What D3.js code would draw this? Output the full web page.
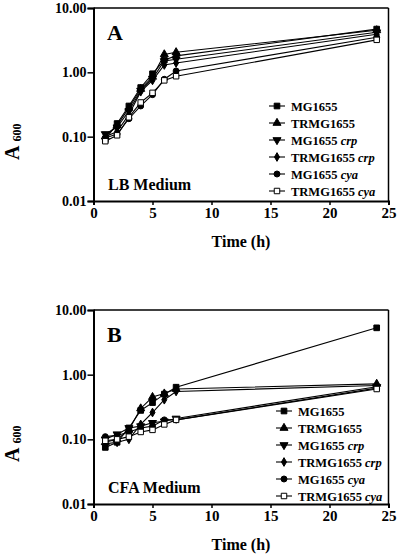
<!DOCTYPE html>
<html><head><meta charset="utf-8">
<script src="https://cdn.jsdelivr.net/npm/d3@7"></script>
<style>html,body{margin:0;padding:0;background:#fff;}svg{display:block;}</style>
</head><body>
<svg id="c" width="400" height="555"></svg>
<script>
const times = [1, 2, 3, 4, 5, 6, 7, 24];
const seriesNames = ["MG1655", "TRMG1655", "MG1655 crp", "TRMG1655 crp", "MG1655 cya", "TRMG1655 cya"];
const xTicks = [0, 5, 10, 15, 20, 25];
const yTicks = [0.01, 0.1, 1, 10];
const yTickLabels = ["0.01", "0.10", "1.00", "10.00"];

// Panel A: LB medium
const lbMG1655      = [0.09, 0.16, 0.30, 0.58, 0.95, 1.55, 1.80, 4.7];
const lbTRMG1655    = [0.10, 0.15, 0.28, 0.55, 0.85, 1.90, 2.05, 4.5];
const lbMG1655crp   = [0.11, 0.14, 0.25, 0.52, 0.80, 1.50, 1.60, 4.2];
const lbTRMG1655crp = [0.10, 0.12, 0.22, 0.50, 0.75, 1.30, 1.40, 3.9];
const lbMG1655cya   = [0.095, 0.11, 0.19, 0.30, 0.45, 0.78, 1.05, 3.5];
const lbTRMG1655cya = [0.085, 0.105, 0.20, 0.34, 0.48, 0.75, 0.87, 3.2];

// Panel B: CFA medium
const cfaMG1655      = [0.075, 0.09, 0.15, 0.28, 0.37, 0.50, 0.64, 5.3];
const cfaTRMG1655    = [0.09, 0.10, 0.14, 0.30, 0.45, 0.51, 0.60, 0.72];
const cfaMG1655crp   = [0.10, 0.12, 0.15, 0.16, 0.18, 0.19, 0.21, 0.65];
const cfaTRMG1655crp = [0.085, 0.09, 0.10, 0.17, 0.26, 0.41, 0.55, 0.68];
const cfaMG1655cya   = [0.11, 0.115, 0.13, 0.15, 0.16, 0.20, 0.20, 0.62];
const cfaTRMG1655cya = [0.095, 0.10, 0.11, 0.13, 0.14, 0.17, 0.20, 0.60];

const panels = [
  {letter: "A", medium: "LB Medium", top: 8, bottom: 201, legX: 277, legY0: 106,
   data: [lbMG1655, lbTRMG1655, lbMG1655crp, lbTRMG1655crp, lbMG1655cya, lbTRMG1655cya]},
  {letter: "B", medium: "CFA Medium", top: 310, bottom: 504, legX: 284, legY0: 411,
   data: [cfaMG1655, cfaTRMG1655, cfaMG1655crp, cfaTRMG1655crp, cfaMG1655cya, cfaTRMG1655cya]}
];

const svg = d3.select("#c");
const font = "'Liberation Serif','Times New Roman',serif";
const left = 93.5, right = 388.5;

const markers = [
  {type: d3.symbolSquare, size: 32, fill: "#000"},
  {type: d3.symbolTriangle, size: 28, fill: "#000", rot: 0},
  {type: d3.symbolTriangle, size: 28, fill: "#000", rot: 180},
  {type: d3.symbolDiamond, size: 22, fill: "#000"},
  {type: d3.symbolCircle, size: 28, fill: "#000"},
  {type: d3.symbolSquare, size: 30, fill: "#fff"}
];
function drawMarker(g, i, x, y) {
  const m = markers[i];
  g.append("path")
    .attr("d", d3.symbol().type(m.type).size(m.size)())
    .attr("transform", `translate(${x},${y}) rotate(${m.rot || 0})`)
    .attr("fill", m.fill).attr("stroke", "#000").attr("stroke-width", 1);
}

panels.forEach(p => {
  const g = svg.append("g");
  const x = d3.scaleLinear().domain([0, 25]).range([left, right]);
  const y = d3.scaleLog().domain([0.01, 10]).range([p.bottom, p.top]);

  g.append("line").attr("x1", left).attr("x2", right).attr("y1", p.top).attr("y2", p.top)
    .attr("stroke", "#000").attr("stroke-width", 1.5);
  g.append("line").attr("x1", right).attr("x2", right).attr("y1", p.top).attr("y2", p.bottom)
    .attr("stroke", "#000").attr("stroke-width", 1.5);

  const ya = g.append("g").attr("transform", `translate(${left},0)`)
    .call(d3.axisLeft(y).tickValues(yTicks).tickFormat((d, i) => yTickLabels[i]).tickSize(6).tickPadding(1));
  ya.select(".domain").attr("stroke-width", 2);
  ya.selectAll(".tick line").attr("stroke-width", 1.5);
  ya.selectAll("text").attr("font-family", font).attr("font-weight", "bold")
    .attr("font-size", 14).attr("fill", "#000");

  const xa = g.append("g").attr("transform", `translate(0,${p.bottom})`)
    .call(d3.axisBottom(x).tickValues(xTicks).tickSize(4).tickPadding(2));
  xa.select(".domain").attr("stroke-width", 2);
  xa.selectAll(".tick line").attr("stroke-width", 1.5);
  xa.selectAll("text").attr("font-family", font).attr("font-weight", "bold")
    .attr("font-size", 15).attr("fill", "#000");

  g.append("text").attr("x", (left + right) / 2).attr("y", p.bottom + 46)
    .attr("text-anchor", "middle").attr("font-family", font).attr("font-weight", "bold")
    .attr("font-size", 16).text("Time (h)");

  const yt = g.append("text").attr("transform", `translate(19,${p.top + 152}) rotate(-90)`)
    .attr("font-family", font).attr("font-weight", "bold");
  yt.append("tspan").attr("font-size", 20).text("A");
  yt.append("tspan").attr("font-size", 12).attr("dx", 4).attr("dy", 2).text("600");

  g.append("text").attr("x", 107).attr("y", p.top + 32).attr("font-family", font)
    .attr("font-weight", "bold").attr("font-size", 22).text(p.letter);
  g.append("text").attr("x", 108).attr("y", p.bottom - 11).attr("font-family", font)
    .attr("font-weight", "bold").attr("font-size", 16).text(p.medium);

  const line = d3.line().x((d, i) => x(times[i])).y(d => y(d));
  p.data.forEach(vals => {
    g.append("path").datum(vals).attr("d", line).attr("fill", "none")
      .attr("stroke", "#000").attr("stroke-width", 1.1);
  });
  p.data.forEach((vals, si) => {
    vals.forEach((v, i) => drawMarker(g, si, x(times[i]), y(v)));
  });

  seriesNames.forEach((name, i) => {
    const ly = p.legY0 + i * 17;
    g.append("line").attr("x1", p.legX - 8).attr("x2", p.legX + 8).attr("y1", ly).attr("y2", ly)
      .attr("stroke", "#000").attr("stroke-width", 1.1);
    drawMarker(g, i, p.legX, ly);
    const parts = name.split(" ");
    const t = g.append("text").attr("x", p.legX + 14).attr("y", ly + 4.5)
      .attr("font-family", font).attr("font-weight", "bold").attr("font-size", 12.5);
    t.append("tspan").text(parts[0]);
    if (parts[1]) t.append("tspan").attr("font-style", "italic").text(" " + parts[1]);
  });
});
</script>
</body></html>
